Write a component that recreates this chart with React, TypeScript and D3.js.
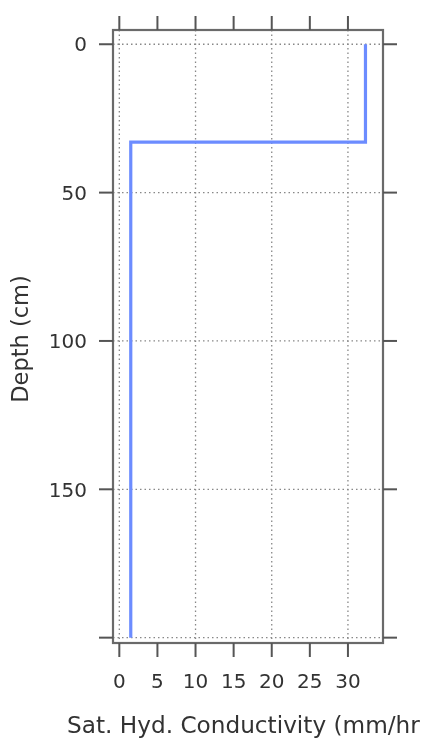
import React from 'react';
import * as d3 from 'd3';

// soil profile: horizon boundaries (cm) and saturated hydraulic conductivity (mm/hr)
const depthTop = [0, 33, 46, 140];
const depthBottom = [33, 46, 140, 200];
const ksat = [32.3, 1.5, 1.5, 1.5];

const xTicks = [0, 5, 10, 15, 20, 25, 30];
const xGrid = [0, 10, 20, 30];
const yTicks = [0, 50, 100, 150, 200];
const yLabels = ['0', '50', '100', '150', ''];

const xTitle = 'Sat. Hyd. Conductivity (mm/hr';
const yTitle = 'Depth (cm)';

const W = 426, H = 739;
const panel = {left: 113, right: 383, top: 30, bottom: 643};
const font = 'DejaVu Sans, Verdana, sans-serif';

export default function App() {
    const x = d3.scaleLinear().domain([-0.83, 34.6]).range([panel.left, panel.right]);
    const y = d3.scaleLinear().domain([-4.8, 201.8]).range([panel.top, panel.bottom]);

    // build the step profile
    const pts: [number, number][] = [];
    depthTop.forEach((t, i) => {
        pts.push([ksat[i], t]);
        pts.push([ksat[i], depthBottom[i]]);
    });
    const line = d3.line<[number, number]>()
        .x(d => x(d[0]))
        .y(d => y(d[1]));

    const tickLen = 14;

    return (
        <svg width={W} height={H} style={{position: 'absolute', left: 0, top: 0, background: '#fff'}}>
            <defs>
                <filter id='soft' x='-5%' y='-5%' width='110%' height='110%'>
                    <feGaussianBlur stdDeviation='0.6' />
                </filter>
            </defs>
            <g filter='url(#soft)'>
                {/* gridlines */}
                {xGrid.map(v => (
                    <line key={'gx' + v} x1={x(v)} x2={x(v)} y1={panel.top} y2={panel.bottom}
                        stroke='#888' strokeWidth={1.3} strokeDasharray='1.5,3' />
                ))}
                {yTicks.map(v => (
                    <line key={'gy' + v} x1={panel.left} x2={panel.right} y1={y(v)} y2={y(v)}
                        stroke='#888' strokeWidth={1.3} strokeDasharray='1.5,3' />
                ))}

                {/* data */}
                <path d={line(pts) || ''} fill='none' stroke='#6c8cff' strokeWidth={3.2} />

                {/* panel box */}
                <rect x={panel.left} y={panel.top} width={panel.right - panel.left} height={panel.bottom - panel.top}
                    fill='none' stroke='#6a6a6a' strokeWidth={2.2} />

                {/* x ticks top and bottom */}
                {xTicks.map(v => (
                    <g key={'xt' + v}>
                        <line x1={x(v)} x2={x(v)} y1={panel.top} y2={panel.top - tickLen} stroke='#555' strokeWidth={2} />
                        <line x1={x(v)} x2={x(v)} y1={panel.bottom} y2={panel.bottom + tickLen} stroke='#555' strokeWidth={2} />
                        <text x={x(v)} y={688} textAnchor='middle' fontFamily={font} fontSize={20} fill='#333'>{v}</text>
                    </g>
                ))}

                {/* y ticks left and right */}
                {yTicks.map((v, i) => (
                    <g key={'yt' + v}>
                        <line x1={panel.left} x2={panel.left - tickLen} y1={y(v)} y2={y(v)} stroke='#555' strokeWidth={2} />
                        <line x1={panel.right} x2={panel.right + tickLen} y1={y(v)} y2={y(v)} stroke='#555' strokeWidth={2} />
                        <text x={87} y={y(v)} dy='0.36em' textAnchor='end' fontFamily={font} fontSize={20} fill='#333'>{yLabels[i]}</text>
                    </g>
                ))}

                {/* axis titles */}
                <text x={67} y={733} textAnchor='start' fontFamily={font} fontSize={23.2} fill='#333'>
                    {xTitle}
                </text>
                <text transform='translate(28,339) rotate(-90)' textAnchor='middle' fontFamily={font} fontSize={22.5} fill='#333'>
                    {yTitle}
                </text>
            </g>
        </svg>
    );
}
